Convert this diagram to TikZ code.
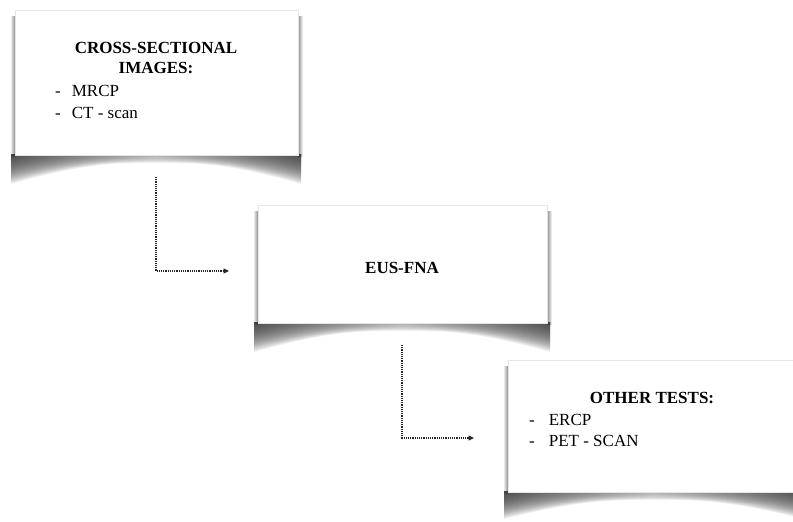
\documentclass[tikz,border=0pt]{standalone}
\usepackage{fontspec}
\setmainfont{Liberation Serif}
\usetikzlibrary{arrows.meta}

% left-to-right tone of the curled-page shadow
\pgfdeclarehorizontalshading{curlshade}{100bp}{%
  color(0bp)=(black!60); color(20bp)=(black!90); color(50bp)=(black!35);
  color(80bp)=(black!90); color(100bp)=(black!60)}

\tikzset{
  card/.style={draw=black!10, line width=0.5pt, fill=white, inner sep=0pt},
  heading/.style={font=\fontsize{17}{20}\selectfont\bfseries, inner sep=0pt, anchor=base},
  item/.style={font=\fontsize{17}{20}\selectfont, inner sep=0pt, anchor=base west},
  flow/.style={densely dotted, line width=1.2pt, black!85, -{Triangle[length=5.5pt,width=5pt]}},
}

% curled shadow under a card: #1 = left x, #2 = right x, #3 = bottom y, #4 = corner depth, #5 = middle depth
\newcommand{\curlshadow}[5]{%
  \foreach \k in {1,...,24}{%
    \pgfmathsetmacro{\dc}{#4*\k/24}
    \pgfmathsetmacro{\dm}{#5*\k/24}
    \shade[shading=curlshade, fill opacity=0.075]
      (#1-4,#3-1) -- (#2+3,#3-1) -- (#2+3,#3+\dc)
      .. controls ({#2-0.25*(#2-#1)},#3+\dm) and ({0.5*(#1+#2)+0.15*(#2-#1)},#3+\dm) .. ({0.5*(#1+#2)},#3+\dm)
      .. controls ({0.5*(#1+#2)-0.15*(#2-#1)},#3+\dm) and ({#1+0.25*(#2-#1)},#3+\dm) .. (#1-4,#3+\dc) -- cycle;
  }%
}
% thin side shadows of a card: #1 = left x, #2 = right x, #3 = top y, #4 = bottom y
\newcommand{\sideshadow}[4]{%
  \shade[left color=white, right color=black!45] (#1-5,#3+6) rectangle (#1,#4);
  \shade[left color=black!45, right color=white] (#2,#3+6) rectangle (#2+5,#4);
}

\begin{document}
\begin{tikzpicture}[x=1pt, y=-1pt]
  \useasboundingbox (0,0) rectangle (793,522);

  % shadows
  \sideshadow{15}{298}{10}{156}
  \curlshadow{15}{298}{155}{29}{8}
  \sideshadow{258}{547}{205}{324}
  \curlshadow{258}{547}{323}{29}{8}
  \sideshadow{508}{800}{360}{493}
  \curlshadow{508}{800}{492}{27}{8}

  % cards
  \node[card, minimum width=283pt, minimum height=145pt] (imaging) at (156.5,82.5) {};
  \node[card, minimum width=289pt, minimum height=118pt] (eus) at (402.5,264) {};
  \node[card, minimum width=292pt, minimum height=132pt] (other) at (654,426) {};

  % first card text
  \node[heading] (t1a) at (156,53) {CROSS-SECTIONAL};
  \node[heading] (t1b) at (156,73.5) {IMAGES:};
  \node[item] (t1c) at (55,96.5) {-\hspace{11pt}MRCP};
  \node[item] (t1d) at (55,118.5) {-\hspace{11pt}CT - scan};

  % second card text
  \node[heading] (t2a) at (402,273) {EUS-FNA};

  % third card text
  \node[heading] (t3a) at (652,403.5) {OTHER TESTS:};
  \node[item] (t3b) at (529,425) {-\hspace{14pt}ERCP};
  \node[item] (t3c) at (529,446.5) {-\hspace{14pt}PET - SCAN};

  % connectors
  \coordinate (c1s) at (156,177);
  \coordinate (c1e) at (229,271);
  \coordinate (c2s) at (402,345);
  \coordinate (c2e) at (474,438);
  \draw[flow] (c1s) |- (c1e);
  \draw[flow] (c2s) |- (c2e);
\end{tikzpicture}
\end{document}
